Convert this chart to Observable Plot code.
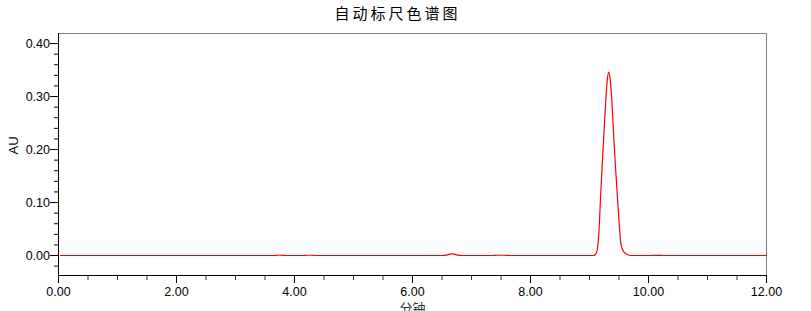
<!DOCTYPE html>
<html>
<head>
<meta charset="utf-8">
<script src="https://cdn.jsdelivr.net/npm/d3@7"></script>
<script src="https://cdn.jsdelivr.net/npm/@observablehq/plot@0.6"></script>
<style>
  html, body { margin: 0; padding: 0; background: #fff; }
</style>
</head>
<body>
<div id="chart"></div>
<script>
const title = "自动标尺色谱图";
const xLabel = "分钟";
const yLabel = "AU";

const time = [0.03, 1.0, 2.0, 3.0, 3.65, 3.72, 3.78, 3.85, 4.15, 4.22, 4.28, 4.35, 5.0, 6.0, 6.5, 6.58, 6.63, 6.67, 6.71, 6.76, 6.85, 7.0, 7.35, 7.45, 7.55, 7.65, 8.0, 8.6, 9.0,
  9.06, 9.10, 9.13, 9.16, 9.19, 9.22, 9.25, 9.28, 9.30, 9.327, 9.35, 9.38, 9.41, 9.44, 9.47, 9.50, 9.53, 9.57, 9.61, 9.66, 9.72, 9.80, 10.0, 10.15, 10.25, 11.0, 12.0];
const absorbance = [0, 0, 0, 0, 0, 0.0005, 0.0006, 0, 0, 0.0005, 0.0005, 0, 0, 0, 0, 0.0008, 0.0025, 0.0032, 0.0025, 0.0008, 0, 0, 0, 0.0005, 0.0005, 0, 0, 0, 0,
  0.000, 0.002, 0.010, 0.045, 0.116, 0.180, 0.242, 0.300, 0.330, 0.346, 0.333, 0.290, 0.225, 0.168, 0.116, 0.065, 0.024, 0.009, 0.004, 0.001, 0.000, 0, 0, 0.0004, 0, 0, 0];

const xMajor = [0, 2, 4, 6, 8, 10, 12];
const xMinor = [0.5, 1, 1.5, 2.5, 3, 3.5, 4.5, 5, 5.5, 6.5, 7, 7.5, 8.5, 9, 9.5, 10.5, 11, 11.5];
const yMajor = [0, 0.1, 0.2, 0.3, 0.4];
const yMinor = [-0.02, 0.02, 0.04, 0.06, 0.08, 0.12, 0.14, 0.16, 0.18, 0.22, 0.24, 0.26, 0.28, 0.32, 0.34, 0.36, 0.38];
const xDomain = [0, 12];
const yDomain = [-0.0377, 0.419];

const data = time.map((t, i) => ({t, v: absorbance[i]}));

const chart = Plot.plot({
  width: 811,
  height: 311,
  marginLeft: 58,
  marginRight: 45,
  marginTop: 33,
  marginBottom: 36,
  style: {fontFamily: "'Liberation Sans', Arial, sans-serif", fontSize: "12.5px", background: "#fff", color: "#000", overflow: "visible"},
  x: {domain: xDomain},
  y: {domain: yDomain},
  marks: [
    Plot.frame({stroke: "#808080"}),
    Plot.ruleX([xDomain[0]], {stroke: "#000"}),
    Plot.ruleY([yDomain[0]], {stroke: "#000"}),
    Plot.axisY(yMajor, {tickSize: 8, tickPadding: 0.5, tickFormat: d => d.toFixed(2), label: null}),
    Plot.axisY(yMinor, {tickSize: 4, tickFormat: () => "", label: null}),
    Plot.axisX(xMajor, {tickSize: 8, tickPadding: 4, tickFormat: d => d.toFixed(2), label: null}),
    Plot.axisX(xMinor, {tickSize: 5, tickFormat: () => "", label: null, stroke: "#333"}),
    Plot.line(data, {x: "t", y: "v", stroke: "#ff0000", strokeWidth: 1.2, curve: "monotone-x"}),
    Plot.text([yLabel], {frameAnchor: "left", dx: -45, rotate: -90, fontSize: 13}),
    Plot.text([xLabel], {frameAnchor: "bottom", lineAnchor: "top", dy: 28.5, fontSize: 13, fontFamily: "'Noto Sans CJK SC', sans-serif", fill: "#333"}),
    Plot.text([title], {frameAnchor: "top", lineAnchor: "middle", dy: -19, dx: -15, fontSize: 15, fontFamily: "'Noto Sans CJK SC', sans-serif"})
  ]
});
d3.select(chart).selectAll("text").filter(function() { return this.textContent === title; }).style("letter-spacing", "3px");
document.getElementById("chart").appendChild(chart);
</script>
</body>
</html>
